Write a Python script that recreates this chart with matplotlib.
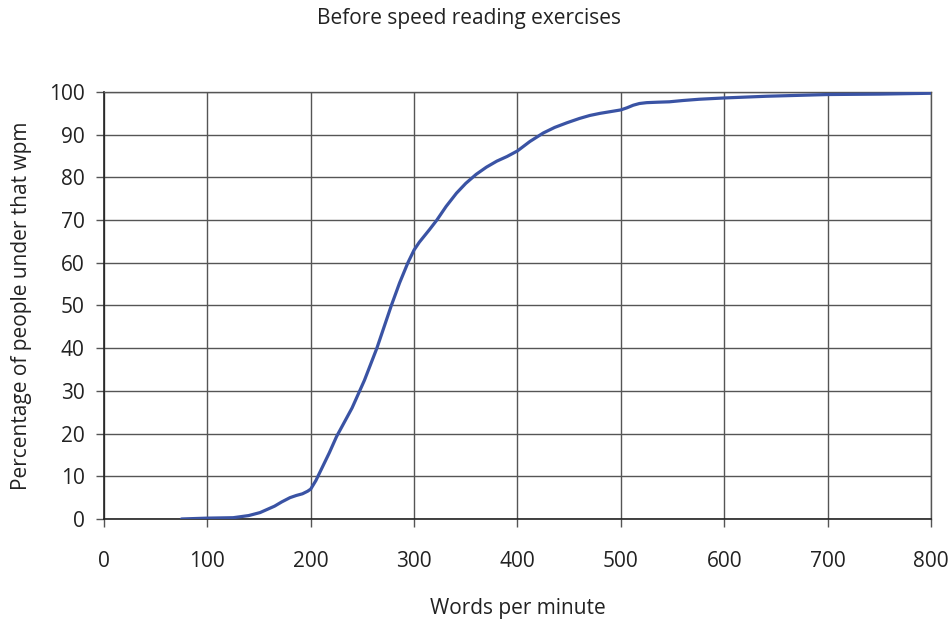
import matplotlib
matplotlib.use("Agg")
import matplotlib.pyplot as plt

wpm = [75, 100, 125, 140, 151, 165, 172, 180, 186, 192, 197, 200, 205, 210, 218, 225, 240, 252, 264, 278,
       286, 294, 300, 305, 309, 315, 322, 331, 341, 350, 360, 370, 380, 390, 400, 412, 425, 436, 448, 460,
       470, 480, 490, 500, 506, 512, 518, 525, 535, 547, 560, 576, 600, 641, 700, 750, 800]
pct = [0.0, 0.2, 0.3, 0.8, 1.5, 3.0, 4.0, 5.0, 5.5, 5.9, 6.5, 7.0, 9.0, 11.5, 15.5, 19.3, 26.0, 32.5, 40.0, 50.0,
       55.3, 60.0, 63.0, 64.8, 66.0, 67.8, 70.0, 73.2, 76.3, 78.6, 80.7, 82.4, 83.8, 84.9, 86.2, 88.4, 90.4, 91.7, 92.8, 93.8,
       94.5, 95.0, 95.4, 95.8, 96.3, 96.9, 97.3, 97.5, 97.6, 97.7, 98.0, 98.3, 98.6, 99.0, 99.4, 99.5, 99.7]

xticks = [0, 100, 200, 300, 400, 500, 600, 700, 800]
yticks = [0, 10, 20, 30, 40, 50, 60, 70, 80, 90, 100]

plt.rcParams['font.family'] = ['Open Sans', 'DejaVu Sans']

fig = plt.figure(figsize=(9.52, 6.24), dpi=100)
ax = fig.add_axes([0.1092, 0.1683, 0.8687, 0.6843])

ax.plot(wpm, pct, color='#3A53A4', linewidth=2.3, solid_joinstyle='round', solid_capstyle='round', zorder=3)

ax.set_xlim(0, 800)
ax.set_ylim(0, 100)
ax.set_xticks(xticks)
ax.set_yticks(yticks)
ax.set_xticklabels([str(t) for t in xticks], fontsize=15, color='#222222')
ax.set_yticklabels([str(t) for t in yticks], fontsize=15, color='#222222')
ax.grid(True, color='#555555', linewidth=1.0, zorder=0)
ax.tick_params(axis='x', direction='out', length=6, width=1, color='#555555', pad=17)
ax.tick_params(axis='y', direction='out', length=6, width=1, color='#555555', pad=8)
for s in ['top', 'right']:
    ax.spines[s].set_color('#555555')
    ax.spines[s].set_linewidth(1.0)
for s in ['left', 'bottom']:
    ax.spines[s].set_color('#222222')
    ax.spines[s].set_linewidth(1.2)

ax.set_xlabel('Words per minute', fontsize=15, color='#222222', labelpad=19)
ax.set_ylabel('Percentage of people under that wpm', fontsize=15, color='#222222', labelpad=12)
fig.text(0.4927, 0.971, 'Before speed reading exercises', ha='center', va='center', fontsize=15, color='#222222')

fig.savefig('out.png', dpi=100)
